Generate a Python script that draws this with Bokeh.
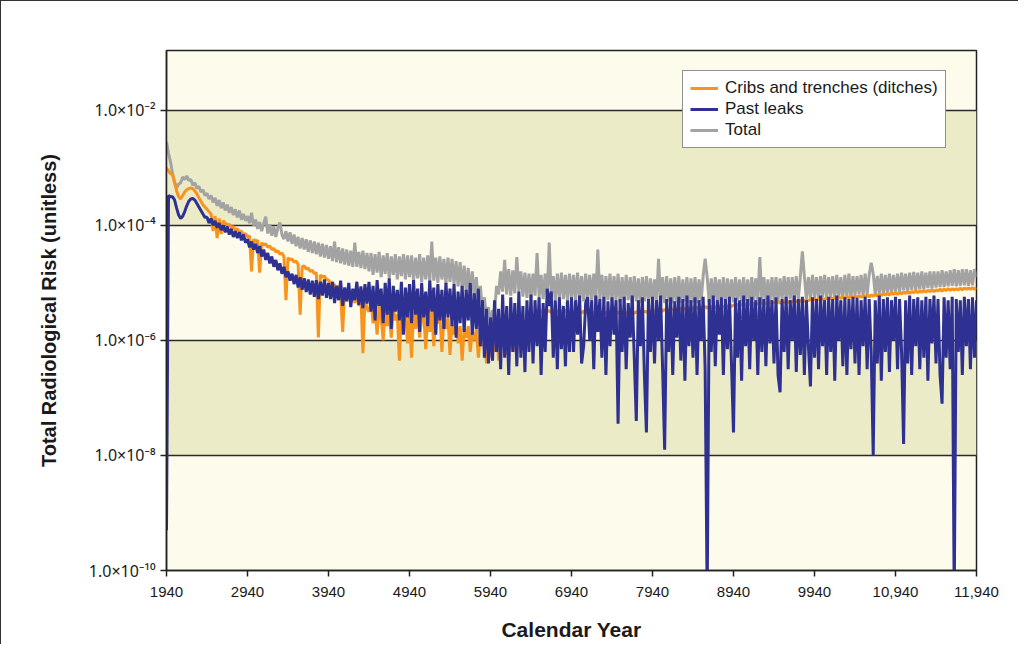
from bokeh.plotting import figure
from bokeh.models import BoxAnnotation, FixedTicker, Legend, LegendItem, Range1d
from bokeh.embed import file_html
from bokeh.resources import INLINE

# ---------------- data ----------------
years = list(range(1940, 11941, 25))

# log10 of the total radiological risk, one value every 25 years
total_log10 = [
    -2.55, -2.75, -2.90, -3.10, -3.25, -3.35, -3.28, -3.26, -3.16, -3.20, -3.14, -3.22, -3.20, -3.30, -3.26, -3.36, -3.32, -3.42, -3.38, -3.48,
    -3.44, -3.54, -3.48, -3.60, -3.52, -3.66, -3.56, -3.70, -3.60, -3.74, -3.64, -3.78, -3.68, -3.82, -3.72, -3.86, -3.74, -3.90, -3.80, -3.92,
    -3.84, -3.96, -3.78, -4.00, -3.90, -4.06, -3.94, -4.10, -3.96, -3.85, -4.14, -3.98, -4.18, -4.02, -4.20, -4.04, -3.95, -4.16, -4.24, -4.10,
    -4.28, -4.12, -4.32, -4.16, -4.36, -4.20, -4.40, -4.22, -4.42, -4.24, -4.46, -4.26, -4.48, -4.28, -4.50, -4.30, -4.54, -4.32, -4.56, -4.34,
    -4.58, -4.36, -4.62, -4.28, -4.64, -4.38, -4.66, -4.40, -4.68, -4.42, -4.70, -4.44, -4.72, -4.30, -4.72, -4.46, -4.74, -4.44, -4.76, -4.48,
    -4.80, -4.48, -4.86, -4.50, -4.82, -4.46, -4.90, -4.52, -4.84, -4.48, -4.92, -4.54, -4.86, -4.50, -4.94, -4.54, -4.88, -4.50, -4.94, -4.52,
    -4.90, -4.52, -4.96, -4.56, -4.92, -4.50, -4.98, -4.56, -4.94, -4.52, -4.98, -4.28, -4.96, -4.56, -5.00, -4.54, -4.94, -4.58, -5.02, -4.56,
    -4.98, -4.58, -5.02, -4.62, -5.06, -4.64, -5.10, -4.70, -5.15, -4.74, -5.20, -4.80, -5.26, -4.90, -5.34, -5.05, -5.48, -5.25, -5.62, -5.42,
    -5.72, -5.48, -5.50, -5.05, -5.20, -4.80, -5.15, -4.60, -5.20, -4.76, -5.22, -4.78, -5.18, -4.55, -5.15, -4.80, -5.24, -4.82, -5.26, -4.84,
    -5.26, -4.84, -5.22, -4.48, -5.25, -4.86, -5.28, -4.84, -5.22, -4.30, -5.26, -4.88, -5.30, -4.84, -5.26, -4.82, -5.28, -4.86, -5.30, -4.84,
    -5.28, -4.86, -5.30, -4.82, -5.26, -4.88, -5.32, -4.84, -5.28, -4.86, -5.30, -4.84, -5.32, -4.42, -5.28, -4.86, -5.32, -4.88, -5.30, -4.84,
    -5.32, -4.88, -5.30, -4.84, -5.34, -4.90, -5.32, -4.86, -5.30, -4.90, -5.34, -4.88, -5.32, -4.92, -5.35, -4.90, -5.32, -4.88, -5.34, -4.92,
    -5.34, -4.94, -5.32, -4.58, -5.34, -4.90, -5.35, -4.88, -5.32, -4.92, -5.35, -4.90, -5.34, -4.88, -5.35, -4.94, -5.32, -4.90, -5.35, -4.92,
    -5.34, -4.90, -5.35, -4.94, -5.32, -4.88, -4.58, -4.90, -5.34, -4.92, -5.35, -4.90, -5.32, -4.94, -5.34, -4.90, -5.35, -4.92, -5.32, -4.94,
    -5.34, -4.90, -5.30, -4.94, -5.34, -4.90, -5.32, -4.94, -5.34, -4.90, -5.30, -4.92, -5.32, -4.55, -5.32, -4.90, -5.30, -4.94, -5.34, -4.90,
    -5.30, -4.90, -5.32, -4.92, -5.28, -4.88, -5.30, -4.90, -5.28, -4.90, -5.30, -4.88, -5.28, -4.90, -4.45, -4.88, -5.28, -4.90, -5.26, -4.86,
    -5.26, -4.90, -5.28, -4.88, -5.24, -4.86, -5.26, -4.90, -5.24, -4.88, -5.26, -4.86, -5.24, -4.90, -5.26, -4.86, -5.24, -4.84, -5.26, -4.88,
    -5.22, -4.88, -5.20, -4.86, -5.22, -4.84, -5.20, -4.86, -4.65, -4.84, -5.20, -4.88, -5.18, -4.84, -5.20, -4.86, -5.17, -4.84, -5.18, -4.86,
    -5.15, -4.84, -5.15, -4.82, -5.13, -4.84, -5.15, -4.82, -5.12, -4.81, -5.13, -4.82, -5.11, -4.80, -5.11, -4.82, -5.09, -4.80, -5.10, -4.80,
    -5.08, -4.80, -5.07, -4.78, -5.07, -4.80, -5.06, -4.78, -5.05, -4.76, -5.06, -4.78, -5.05, -4.76, -5.04, -4.76, -5.05, -4.78, -5.04, -4.76,
    -4.90,
]

# log10 of the risk from cribs and trenches (ditches)
cribs_log10 = [
    -3.00, -3.05, -3.10, -3.12, -3.25, -3.40, -3.50, -3.54, -3.48, -3.42, -3.38, -3.36, -3.35, -3.36, -3.40, -3.45, -3.52, -3.58, -3.64, -3.68,
    -3.72, -3.76, -3.80, -4.10, -3.84, -4.22, -3.88, -4.15, -3.92, -3.96, -4.00, -3.98, -4.04, -4.02, -4.08, -4.06, -4.12, -4.10, -4.16, -4.14,
    -4.20, -4.18, -4.80, -4.24, -4.28, -4.26, -4.82, -4.30, -4.34, -4.32, -4.38, -4.36, -4.42, -4.40, -4.46, -4.44, -4.50, -4.48, -4.54, -5.30,
    -4.56, -4.60, -4.58, -4.64, -4.62, -4.68, -5.55, -4.72, -4.70, -4.76, -4.74, -4.80, -4.78, -4.84, -4.82, -5.95, -4.86, -4.90, -4.88, -4.94,
    -4.95, -5.00, -5.10, -5.02, -5.15, -5.05, -5.20, -5.85, -5.10, -5.25, -5.12, -5.30, -5.15, -5.35, -5.20, -5.40, -5.22, -6.22, -5.28, -5.45,
    -5.50, -5.30, -5.70, -5.45, -5.90, -5.40, -5.60, -6.00, -5.45, -5.75, -5.50, -5.95, -5.40, -5.65, -5.55, -6.35, -5.50, -5.70, -5.45, -6.05,
    -5.55, -6.30, -5.50, -5.80, -5.45, -5.95, -5.60, -5.50, -6.15, -5.55, -5.85, -5.50, -6.10, -5.60, -5.70, -5.55, -6.20, -5.65, -5.80, -5.60,
    -6.25, -5.70, -5.90, -5.65, -6.05, -5.75, -6.35, -5.80, -5.95, -5.75, -6.20, -5.85, -6.00, -5.80, -6.30, -5.90, -6.10, -5.85, -6.40, -5.95,
    -6.30, -5.90, -6.20, -5.70, -6.35, -5.80, -6.00, -5.65, -6.25, -5.75, -5.95, -5.70, -6.20, -5.80, -5.90, -5.65, -6.10, -5.75, -5.85, -5.60,
    -5.80, -5.55, -5.60, -5.50, -5.55, -5.48, -5.52, -5.46, -5.50, -5.48, -5.52, -5.47, -5.51, -5.48, -5.52, -5.48, -5.51, -5.47, -5.52, -5.49,
    -5.50, -5.52, -5.49, -5.53, -5.50, -5.52, -5.49, -5.53, -5.50, -5.52, -5.50, -5.53, -5.50, -5.52, -5.49, -5.53, -5.50, -5.52, -5.50, -5.53,
    -5.50, -5.52, -5.49, -5.53, -5.50, -5.52, -5.49, -5.53, -5.50, -5.52, -5.50, -5.53, -5.50, -5.52, -5.49, -5.52, -5.49, -5.51, -5.48, -5.51,
    -5.48, -5.50, -5.47, -5.50, -5.47, -5.49, -5.46, -5.49, -5.46, -5.48, -5.45, -5.48, -5.45, -5.47, -5.44, -5.47, -5.44, -5.46, -5.43, -5.46,
    -5.43, -5.45, -5.42, -5.45, -5.42, -5.44, -5.41, -5.44, -5.41, -5.43, -5.40, -5.43, -5.40, -5.42, -5.39, -5.42, -5.39, -5.41, -5.38, -5.41,
    -5.38, -5.40, -5.37, -5.40, -5.37, -5.39, -5.36, -5.39, -5.36, -5.38, -5.35, -5.38, -5.35, -5.37, -5.34, -5.37, -5.34, -5.36, -5.33, -5.36,
    -5.33, -5.35, -5.32, -5.35, -5.32, -5.34, -5.31, -5.34, -5.31, -5.33, -5.30, -5.33, -5.30, -5.32, -5.29, -5.32, -5.29, -5.31, -5.28, -5.31,
    -5.28, -5.30, -5.27, -5.30, -5.27, -5.29, -5.26, -5.29, -5.26, -5.28, -5.25, -5.28, -5.25, -5.27, -5.24, -5.27, -5.24, -5.26, -5.23, -5.26,
    -5.23, -5.25, -5.22, -5.25, -5.22, -5.24, -5.21, -5.24, -5.21, -5.23, -5.20, -5.23, -5.19, -5.22, -5.19, -5.21, -5.18, -5.21, -5.17, -5.20,
    -5.17, -5.20, -5.16, -5.19, -5.16, -5.18, -5.15, -5.18, -5.15, -5.17, -5.14, -5.17, -5.14, -5.16, -5.13, -5.16, -5.13, -5.15, -5.12, -5.15,
    -5.12, -5.14, -5.11, -5.14, -5.11, -5.13, -5.10, -5.13, -5.10, -5.12, -5.10, -5.12, -5.09, -5.12, -5.09, -5.11, -5.09, -5.11, -5.08, -5.11,
    -5.08,
]

# log10 of the risk from past leaks
leaks_log10 = [
    -9.30, -3.48, -3.50, -3.50, -3.56, -3.70, -3.82, -3.88, -3.84, -3.76, -3.66, -3.58, -3.54, -3.53, -3.56, -3.62, -3.68, -3.74, -3.80, -3.86,
    -3.86, -3.96, -3.88, -4.00, -3.92, -4.04, -3.96, -4.08, -4.00, -4.12, -4.02, -4.16, -4.06, -4.20, -4.10, -4.22, -4.12, -4.26, -4.16, -4.30,
    -4.24, -4.38, -4.28, -4.42, -4.32, -4.48, -4.36, -4.54, -4.42, -4.60, -4.48, -4.66, -4.54, -4.72, -4.60, -4.78, -4.66, -4.84, -4.72, -4.90,
    -4.80, -4.96, -4.84, -5.02, -4.86, -5.08, -4.90, -5.12, -4.92, -5.16, -4.94, -5.20, -4.96, -5.24, -4.95, -5.28, -4.98, -5.22, -4.94, -5.26,
    -5.00, -5.28, -4.98, -5.35, -5.05, -5.30, -4.96, -5.40, -5.08, -5.32, -5.00, -5.42, -5.10, -5.30, -4.98, -5.38, -5.06, -5.44, -5.02, -5.36,
    -4.98, -5.50, -5.05, -5.65, -4.95, -5.40, -5.10, -5.70, -5.00, -5.55, -4.92, -5.80, -5.05, -5.50, -5.12, -5.65, -4.98, -5.90, -5.08, -5.60,
    -5.02, -5.70, -4.95, -5.55, -5.10, -5.85, -5.00, -5.60, -5.15, -5.75, -4.96, -5.50, -5.08, -5.90, -5.02, -5.65, -5.12, -5.80, -5.00, -5.60,
    -5.10, -5.75, -5.02, -5.95, -5.15, -5.70, -5.05, -5.85, -5.12, -5.65, -5.00, -5.90, -5.18, -5.80, -5.10, -6.10, -5.30, -6.30, -5.45, -6.40,
    -5.60, -6.35, -5.30, -6.20, -5.45, -6.50, -5.20, -6.30, -5.40, -6.60, -5.25, -6.20, -5.35, -6.45, -5.15, -6.30, -5.40, -6.55, -5.30, -6.20,
    -5.20, -6.40, -5.30, -6.10, -5.25, -6.60, -5.35, -6.20, -5.10, -5.40, -5.15, -6.30, -5.30, -6.50, -5.25, -6.15, -5.40, -6.45, -5.30, -6.20,
    -5.25, -6.20, -5.30, -5.90, -5.22, -6.40, -6.10, -5.35, -5.25, -6.00, -5.30, -6.50, -5.22, -5.85, -5.28, -6.30, -5.24, -6.60, -5.32, -6.10,
    -5.25, -5.90, -5.30, -7.45, -5.28, -6.20, -5.24, -6.50, -5.35, -5.95, -5.22, -6.30, -7.40, -5.30, -6.10, -5.25, -6.60, -7.60, -5.28, -6.20,
    -5.24, -6.40, -5.30, -6.00, -5.22, -6.50, -7.90, -5.28, -6.20, -5.25, -6.60, -5.32, -5.95, -5.24, -6.35, -5.28, -6.70, -5.22, -6.10, -5.30,
    -6.30, -5.25, -6.60, -5.30, -6.00, -5.24, -6.50, -10.50, -5.28, -6.20, -5.22, -6.45, -5.30, -5.90, -5.25, -6.60, -5.28, -6.15, -5.24, -6.40,
    -7.60, -5.26, -6.30, -5.30, -6.70, -5.22, -6.10, -5.28, -6.50, -5.24, -6.00, -5.30, -6.60, -5.25, -6.20, -5.28, -6.45, -5.22, -6.05, -5.30,
    -6.40, -5.25, -6.60, -6.90, -5.28, -6.20, -5.24, -6.50, -5.30, -6.00, -5.22, -6.55, -5.28, -6.25, -5.24, -6.60, -5.30, -6.10, -6.80, -5.25,
    -6.30, -5.28, -6.50, -5.22, -6.10, -5.30, -6.60, -5.24, -6.20, -5.28, -6.70, -5.22, -6.00, -5.30, -6.45, -5.25, -6.60, -5.28, -6.15, -5.24,
    -6.40, -5.26, -6.60, -5.30, -6.10, -5.24, -6.50, -5.28, -6.20, -8.00, -5.30, -6.40, -5.22, -6.70, -5.28, -6.20, -5.25, -6.55, -5.30, -6.00,
    -5.24, -6.50, -5.28, -6.20, -7.80, -5.30, -6.40, -5.22, -6.60, -5.28, -6.10, -5.25, -6.50, -5.30, -6.30, -5.24, -6.70, -5.28, -6.05, -5.22,
    -6.40, -5.28, -6.60, -7.10, -5.25, -6.30, -5.30, -6.50, -5.24, -10.50, -5.28, -6.20, -5.30, -6.60, -5.24, -6.10, -5.28, -6.50, -5.25, -6.30,
    -5.30,
]

x_ticks = [1940, 2940, 3940, 4940, 5940, 6940, 7940, 8940, 9940, 10940, 11940]
x_tick_labels = ["1940", "2940", "3940", "4940", "5940", "6940", "7940",
                 "8940", "9940", "10,940", "11,940"]
y_ticks = [1e-10, 1e-8, 1e-6, 1e-4, 1e-2]
y_tick_labels = ["1.0×10⁻¹⁰", "1.0×10⁻⁸", "1.0×10⁻⁶", "1.0×10⁻⁴", "1.0×10⁻²"]

series_names = ["Cribs and trenches (ditches)", "Past leaks", "Total"]
series_colors = ["#f7941d", "#2e3192", "#a3a3a3"]

total = [10 ** v for v in total_log10]
cribs = [10 ** v for v in cribs_log10]
leaks = [10 ** v for v in leaks_log10]

# ---------------- figure ----------------
FONT = "Liberation Sans"
p = figure(width=1018, height=644,
           x_range=Range1d(1940, 11940), y_range=Range1d(1e-10, 0.11),
           y_axis_type="log", output_backend="svg", toolbar_location=None,
           min_border_left=165, min_border_right=43,
           min_border_top=49, min_border_bottom=75,
           background_fill_color="#fdfbec", border_fill_color="white",
           outline_line_color="#222222", outline_line_width=1.5,
           styles={"border-top": "1px solid #333333",
                   "border-left": "1px solid #333333"})

# alternating background bands
for lo, hi in [(1e-4, 1e-2), (1e-8, 1e-6)]:
    p.add_layout(BoxAnnotation(bottom=lo, top=hi, fill_color="#ecebc8",
                               fill_alpha=1.0, line_alpha=0, level="image"))

p.xgrid.visible = False
p.ygrid.ticker = FixedTicker(ticks=y_ticks)
p.ygrid.grid_line_color = "#2a2a2a"
p.ygrid.grid_line_width = 1.5

p.xaxis.ticker = FixedTicker(ticks=x_ticks)
p.xaxis.major_label_overrides = dict(zip(x_ticks, x_tick_labels))
p.yaxis.ticker = FixedTicker(ticks=y_ticks)
p.yaxis.major_label_overrides = dict(zip(y_ticks, y_tick_labels))

for ax in (p.xaxis[0], p.yaxis[0]):
    ax.axis_line_color = "#222222"
    ax.axis_line_width = 1.5
    ax.major_tick_line_color = "#222222"
    ax.major_tick_line_width = 1.5
    ax.major_tick_in = 0
    ax.major_tick_out = 6
    ax.minor_tick_line_color = None
    ax.major_label_text_font = FONT
    ax.major_label_text_color = "#1a1a1a"
    ax.axis_label_text_font = FONT
    ax.axis_label_text_font_style = "bold"
    ax.axis_label_text_color = "#1a1a1a"

p.xaxis.major_label_text_font_size = "15px"
p.xaxis.major_label_standoff = 10
p.yaxis.major_label_text_font = "Noto Sans"
p.yaxis.major_label_text_font_size = "16px"
p.xaxis.axis_label = "Calendar Year"
p.xaxis.axis_label_text_font_size = "21px"
p.xaxis.axis_label_standoff = 18
p.yaxis.axis_label = "Total Radiological Risk (unitless)"
p.yaxis.axis_label_text_font_size = "20px"
p.yaxis.axis_label_standoff = 26

LW = 3
r_total = p.line(years, total, line_color=series_colors[2], line_width=LW)
r_cribs = p.line(years, cribs, line_color=series_colors[0], line_width=LW)
r_leaks = p.line(years, leaks, line_color=series_colors[1], line_width=LW)

legend = Legend(items=[LegendItem(label=series_names[0], renderers=[r_cribs]),
                       LegendItem(label=series_names[1], renderers=[r_leaks]),
                       LegendItem(label=series_names[2], renderers=[r_total])],
                location=(516, 422))
legend.label_text_font = FONT
legend.label_text_font_size = "17px"
legend.label_text_color = "#1a1a1a"
legend.glyph_width = 28
legend.glyph_height = 18
legend.label_height = 18
legend.label_standoff = 7
legend.padding = 7
legend.spacing = 1
legend.margin = 0
legend.border_line_color = "#222222"
legend.border_line_width = 1.5
legend.background_fill_color = "white"
legend.background_fill_alpha = 1.0
p.add_layout(legend)

open("out.html", "w").write(file_html(p, INLINE))
